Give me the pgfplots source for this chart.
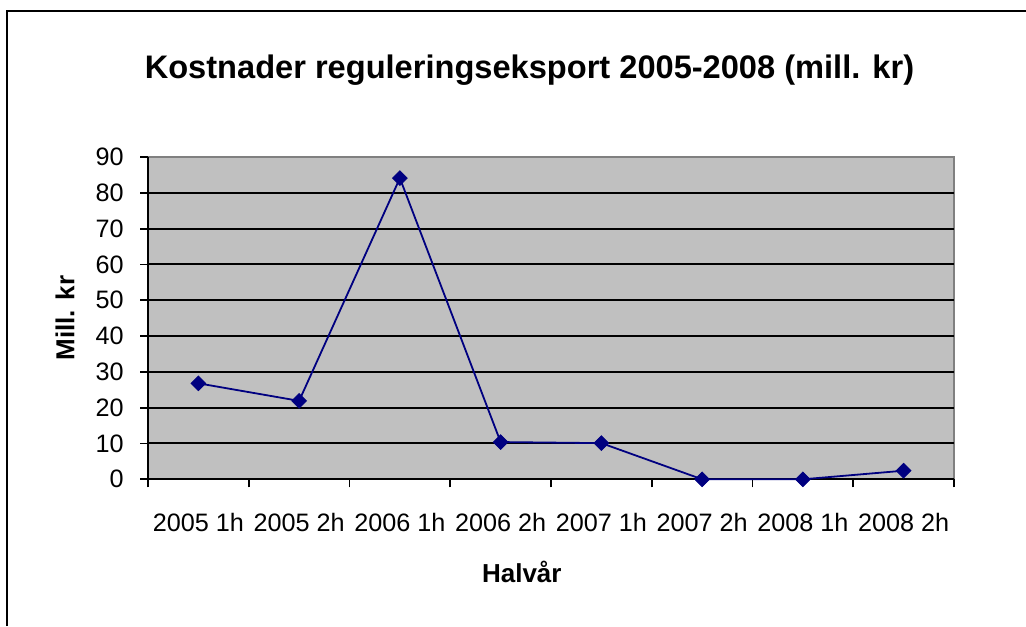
\documentclass[border=0pt]{standalone}
\usepackage{fontspec}
\setmainfont{Liberation Sans}
\usepackage{pgfplots}
\pgfplotsset{compat=1.18}
\definecolor{plotbg}{RGB}{192,192,192}
\definecolor{plotborder}{RGB}{128,128,128}
\definecolor{navy}{RGB}{0,0,128}
\begin{document}
\begin{tikzpicture}
\path[use as bounding box] (0,0) rectangle (513pt,313pt);
\draw[line width=1pt, black] (3.5pt,0) -- (3.5pt,307.5pt) -- (513pt,307.5pt);
\begin{axis}[
  at={(74pt,73.35pt)}, anchor=south west,
  scale only axis, width=403pt, height=161.15pt,
  xmin=0, xmax=8, ymin=0, ymax=90,
  clip=false,
  axis background/.style={fill=plotbg, draw=plotborder, line width=0.6pt},
  axis x line*=bottom, axis y line*=left,
  axis line style={black, line width=1.1pt, -},
  xtick={0.5,1.5,...,7.5},
  xticklabels={2005 1h,2005 2h,2006 1h,2006 2h,2007 1h,2007 2h,2008 1h,2008 2h},
  minor xtick={0,1,...,8},
  ytick={0,10,...,80},
  extra y ticks={90},
  extra y tick style={grid=none},
  minor ytick={0,10,...,90},
  major tick length=0pt, minor tick length=4pt, tick align=outside,
  tick style={black, line width=0.9pt},
  ymajorgrids,
  major grid style={black, line width=1pt},
  /pgf/number format/assume math mode=true,
  ticklabel style={font=\fontsize{12.6}{15}\selectfont},
  xticklabel style={anchor=center, inner sep=0pt, yshift=-21.5pt},
  yticklabel style={anchor=east, inner sep=0pt, xshift=-12pt},
  title={Kostnader reguleringseksport 2005-2008 (mill. kr)},
  title style={at={(axis description cs:0.5,1)}, anchor=center, inner sep=0pt,
    xshift=-10.75pt, yshift=37.25pt, font=\bfseries\fontsize{16.3}{19}\selectfont},
  xlabel={Halvår},
  xlabel style={at={(axis description cs:0.5,0)}, anchor=center, inner sep=0pt,
    xshift=-14.6pt, yshift=-46.2pt, font=\bfseries\fontsize{13}{15}\selectfont},
  ylabel={Mill. kr},
  ylabel style={at={(axis description cs:-0.103,0.5)}, anchor=center, inner sep=0pt,
    font=\bfseries\fontsize{13}{15}\selectfont},
]
\addplot[navy, line width=0.9pt, mark=square*, mark size=2.6pt, mark options={fill=navy, draw=navy, rotate=45, line width=0.4pt}]
  coordinates {(0.5,26.8) (1.5,21.9) (2.5,84.1) (3.5,10.4) (4.5,10.1) (5.5,0) (6.5,0) (7.5,2.4)};
\end{axis}
\end{tikzpicture}
\end{document}
